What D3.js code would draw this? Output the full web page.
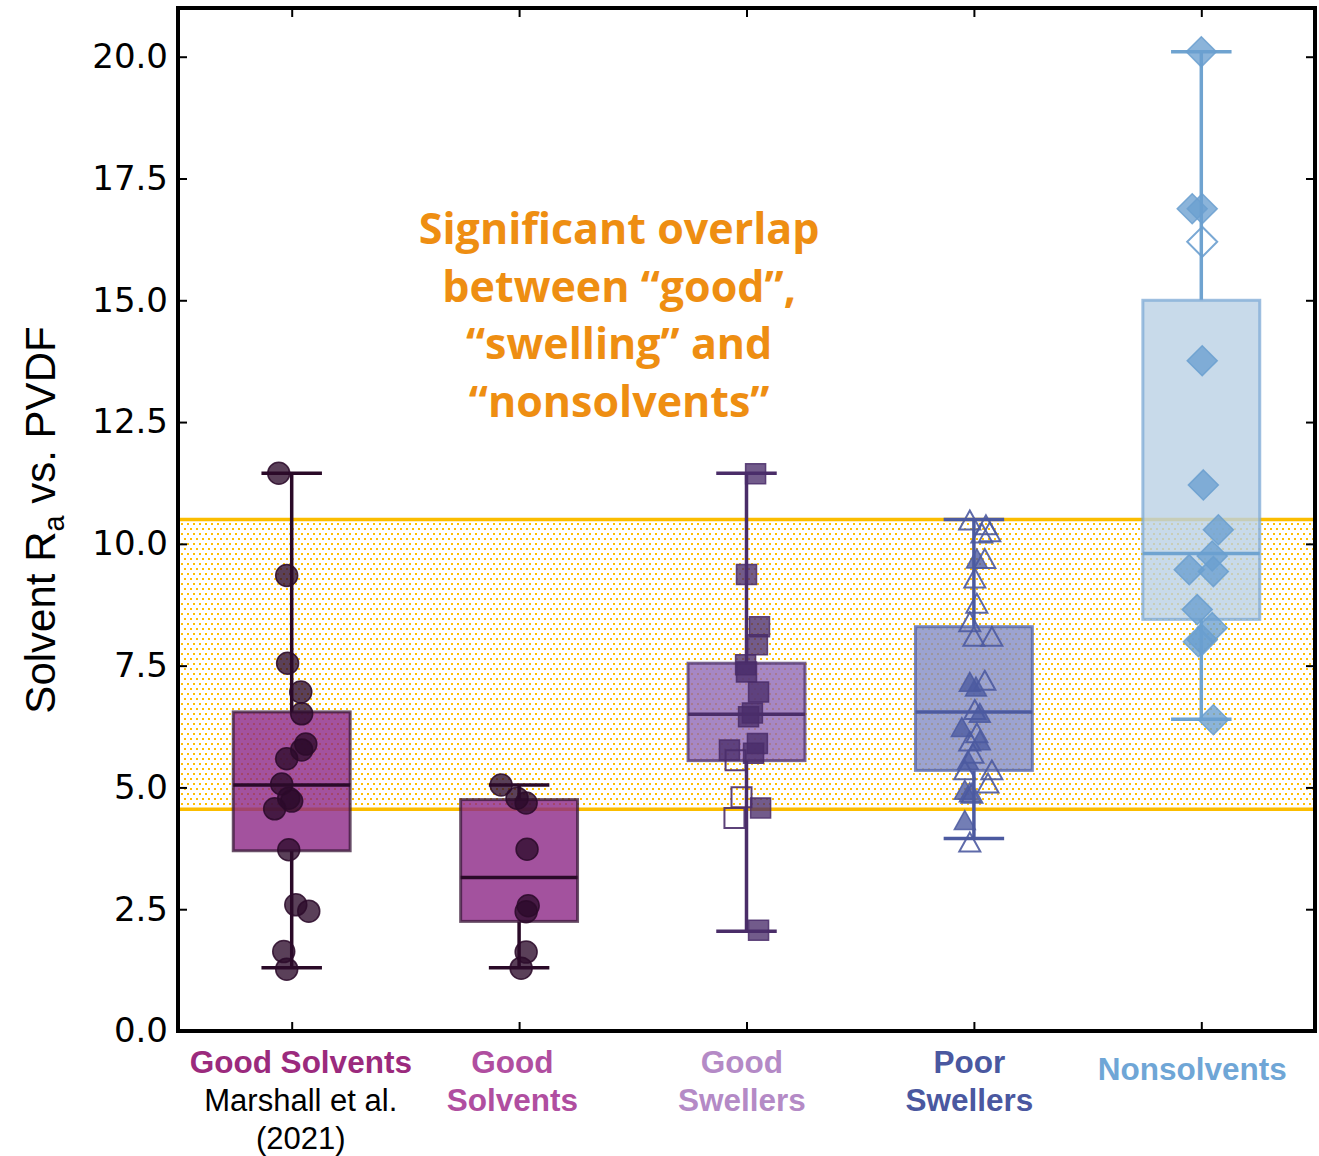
<!DOCTYPE html>
<html><head><meta charset="utf-8">
<script src="https://cdn.jsdelivr.net/npm/d3@7"></script>
<style>body{margin:0;background:#fff;} svg{display:block;}</style>
</head><body>
<script>
// ---------- data ----------
const categories = ["Good Solvents Marshall", "Good Solvents", "Good Swellers", "Poor Swellers", "Nonsolvents"];
const labelLines = [["Good Solvents"], ["Good", "Solvents"], ["Good", "Swellers"], ["Poor", "Swellers"], ["Nonsolvents"]];
const subLines = ["Marshall et al.", "(2021)"];
// box stats: [lowWhisker, q1, median, q3, highWhisker]
const boxStats = [
  [1.3, 3.7, 5.05, 6.55, 11.45],
  [1.3, 2.25, 3.15, 4.75, 5.05],
  [2.05, 5.55, 6.5, 7.55, 11.45],
  [3.95, 5.35, 6.55, 8.3, 10.5],
  [6.4, 8.45, 9.8, 15.0, 20.1]
];
// points: [value, jitter (category units)]
const ptsMarshall = [[11.45,-0.057],[9.35,-0.022],[7.55,-0.018],[6.96,0.04],[6.51,0.044],[5.89,0.062],[5.77,0.044],[5.59,-0.022],[5.07,-0.044],[4.78,-0.013],[4.72,0.0],[4.56,-0.075],[3.72,-0.013],[2.59,0.018],[2.46,0.075],[1.63,-0.035],[1.27,-0.022]];
const ptsGoodSolv = [[5.05,-0.079],[4.78,-0.009],[4.68,0.031],[3.73,0.035],[2.57,0.04],[2.45,0.031],[1.62,0.031],[1.29,0.009]];
const ptsSwellFilled = [[11.44,0.04],[9.37,0.0],[8.3,0.057],[7.93,0.048],[7.52,-0.004],[7.37,0.0],[6.96,0.053],[6.53,0.026],[6.45,0.009],[5.9,0.048],[5.77,-0.075],[5.7,0.031],[4.58,0.062],[2.07,0.053]];
const ptsSwellHollow = [[5.56,-0.048],[4.8,-0.022],[4.37,-0.053]];
const ptsPoorFilled = [[9.7,0.013],[7.17,-0.018],[7.07,0.009],[6.53,0.026],[6.24,-0.053],[5.97,0.026],[5.56,-0.026],[4.95,-0.04],[4.9,-0.018],[4.33,-0.04]];
const ptsPoorHollow = [[10.49,-0.018],[10.39,0.053],[10.25,0.07],[10.22,0.035],[9.7,0.048],[9.3,0.004],[8.78,0.013],[8.4,-0.018],[8.1,0.0],[8.1,0.079],[7.2,0.048],[6.6,0.004],[6.12,0.013],[5.95,-0.018],[5.7,-0.004],[5.36,0.079],[5.36,-0.04],[5.09,0.062],[4.88,-0.009],[3.88,-0.018]];
const ptsNonFilled = [[20.1,0.0],[16.88,-0.04],[16.88,0.004],[13.76,0.004],[11.21,0.009],[10.29,0.075],[9.75,0.048],[9.47,-0.053],[9.43,0.053],[8.65,-0.018],[8.28,0.048],[8.03,0.004],[7.99,-0.013],[6.39,0.053]];
const ptsNonHollow = [[16.2,0.004]];
const band = [4.55, 10.5];
const yTicks = [0, 2.5, 5, 7.5, 10, 12.5, 15, 17.5, 20];
const annotation = ["Significant overlap", "between \u201cgood\u201d,", "\u201cswelling\u201d and", "\u201cnonsolvents\u201d"];

// ---------- styles ----------
const boxFill = ["#8c2786", "#8c2786", "#9069b5", "#838cc4", "#bad1e5"];
const boxStroke = ["#3a1838", "#3a1838", "#4f3470", "#5363a8", "#7eaad6"];
const lineColor = ["#2a0a28", "#2a0a28", "#4a2d68", "#4c5aa0", "#6fa3d0"];
const ptColor = ["#2b0a2a", "#2b0a2a", "#4a2d6a", "#4c5aa0", "#6a9fcf"];
const labelColor = ["#9b2a7d", "#b04ea0", "#b48ac6", "#4a58a0", "#6fa6d6"];

const W = 1319, H = 1156;
const m = {l: 178, r: 1315, t: 8, b: 1031};
const svg = d3.select("body").append("svg").attr("width", W).attr("height", H);

const x = d3.scaleLinear().domain([-0.5, 4.5]).range([m.l, m.r]);
const y = d3.scaleLinear().domain([0, 21]).range([m.b, m.t]);

// pattern
const defs = svg.append("defs");
const pat = defs.append("pattern").attr("id", "dots").attr("patternUnits", "userSpaceOnUse")
  .attr("width", 6).attr("height", 10).attr("x", 180).attr("y", 522);
pat.append("rect").attr("x", 1).attr("y", 1).attr("width", 2).attr("height", 2).attr("fill", "#ffbf00");
pat.append("rect").attr("x", 4).attr("y", 6).attr("width", 2).attr("height", 2).attr("fill", "#ffbf00");
defs.append("clipPath").attr("id", "clip").append("rect")
  .attr("x", m.l).attr("y", m.t).attr("width", m.r - m.l).attr("height", m.b - m.t);

const g = svg.append("g").attr("clip-path", "url(#clip)");

// band
g.append("rect").attr("x", m.l).attr("width", m.r - m.l)
  .attr("y", y(band[1])).attr("height", y(band[0]) - y(band[1]))
  .attr("fill", "url(#dots)").attr("shape-rendering", "crispEdges");
band.forEach(v => g.append("line").attr("x1", m.l).attr("x2", m.r).attr("y1", y(v)).attr("y2", y(v))
  .attr("stroke", "#fbbd00").attr("stroke-width", 3.5));

// boxes
const halfBox = 0.257, halfCap = 0.133;
boxStats.forEach((s, i) => {
  const [lo, q1, med, q3, hi] = s;
  const gg = g.append("g");
  gg.append("line").attr("x1", x(i)).attr("x2", x(i)).attr("y1", y(q3)).attr("y2", y(hi))
    .attr("stroke", lineColor[i]).attr("stroke-width", 3.5);
  gg.append("line").attr("x1", x(i)).attr("x2", x(i)).attr("y1", y(q1)).attr("y2", y(lo))
    .attr("stroke", lineColor[i]).attr("stroke-width", 3.5);
  [lo, hi].forEach(v => gg.append("line").attr("x1", x(i - halfCap)).attr("x2", x(i + halfCap))
    .attr("y1", y(v)).attr("y2", y(v)).attr("stroke", lineColor[i]).attr("stroke-width", 3.5));
  gg.append("rect").attr("x", x(i - halfBox)).attr("width", x(i + halfBox) - x(i - halfBox))
    .attr("y", y(q3)).attr("height", y(q1) - y(q3))
    .attr("fill", boxFill[i]).attr("fill-opacity", 0.8)
    .attr("stroke", boxStroke[i]).attr("stroke-opacity", 0.75).attr("stroke-width", 3);
  gg.append("line").attr("x1", x(i - halfBox)).attr("x2", x(i + halfBox))
    .attr("y1", y(med)).attr("y2", y(med)).attr("stroke", lineColor[i]).attr("stroke-width", 3.5);
});

// points
function drawPts(data, i, shape, filled, size) {
  const sym = d3.symbol().type(shape).size(size);
  g.append("g").selectAll("path").data(data).join("path")
    .attr("transform", d => `translate(${x(i + d[1])},${y(d[0])})`)
    .attr("d", sym)
    .attr("fill", filled ? ptColor[i] : "none")
    .attr("fill-opacity", filled ? 0.78 : 0)
    .attr("stroke", ptColor[i]).attr("stroke-opacity", filled ? 0.85 : 0.9)
    .attr("stroke-width", filled ? 1.5 : 2);
}
const diamond = {draw(ctx, size) { const r = Math.sqrt(size) / 2; ctx.moveTo(0, -r); ctx.lineTo(r, 0); ctx.lineTo(0, r); ctx.lineTo(-r, 0); ctx.closePath(); }};
const tri = {draw(ctx, size) { const w = Math.sqrt(size) / 2; const h = w * 0.9; ctx.moveTo(0, -h); ctx.lineTo(w, h); ctx.lineTo(-w, h); ctx.closePath(); }};
drawPts(ptsMarshall, 0, d3.symbolCircle, true, Math.PI * 11 * 11);
drawPts(ptsGoodSolv, 1, d3.symbolCircle, true, Math.PI * 11 * 11);
drawPts(ptsSwellHollow, 2, d3.symbolSquare, false, 20 * 20);
drawPts(ptsSwellFilled, 2, d3.symbolSquare, true, 20 * 20);
drawPts(ptsPoorHollow, 3, tri, false, 21 * 21);
drawPts(ptsPoorFilled, 3, tri, true, 21 * 21);
drawPts(ptsNonHollow, 4, diamond, false, 30 * 30);
drawPts(ptsNonFilled, 4, diamond, true, 30 * 30);

// annotation
const ann = svg.append("text").attr("text-anchor", "middle")
  .attr("font-family", "'Open Sans', Lato, sans-serif").attr("font-weight", 700)
  .attr("font-size", 43).attr("fill", "#ee8e12");
annotation.forEach((t, k) => ann.append("tspan").attr("x", x(1.44)).attr("y", y(16.15) + k * 57.5).text(t));

// frame + ticks
const axL = d3.axisLeft(y).tickValues(yTicks).tickFormat(d3.format(".1f")).tickSizeInner(-9).tickSizeOuter(0).tickPadding(10);
const axR = d3.axisRight(y).tickValues(yTicks).tickFormat("").tickSizeInner(-9).tickSizeOuter(0);
const axB = d3.axisBottom(x).tickValues([0, 1, 2, 3, 4]).tickFormat("").tickSizeInner(-9).tickSizeOuter(0);
const axT = d3.axisTop(x).tickValues([0, 1, 2, 3, 4]).tickFormat("").tickSizeInner(-9).tickSizeOuter(0);
function styleAx(sel) {
  sel.select(".domain").remove();
  sel.selectAll(".tick line").attr("stroke", "#000").attr("stroke-width", 2);
}
const gl = svg.append("g").attr("transform", `translate(${m.l},0)`).call(axL).call(styleAx);
gl.selectAll(".tick text").attr("font-family", "'DejaVu Sans', sans-serif").attr("font-size", 34).attr("fill", "#000");
svg.append("g").attr("transform", `translate(${m.r},0)`).call(axR).call(styleAx);
svg.append("g").attr("transform", `translate(0,${m.b})`).call(axB).call(styleAx);
svg.append("g").attr("transform", `translate(0,${m.t})`).call(axT).call(styleAx);
svg.append("rect").attr("x", m.l).attr("y", m.t).attr("width", m.r - m.l).attr("height", m.b - m.t)
  .attr("fill", "none").attr("stroke", "#000").attr("stroke-width", 4);

// y label
const yl = svg.append("text").attr("transform", `translate(55,520) rotate(-90)`)
  .attr("text-anchor", "middle").attr("font-family", "'Liberation Sans', Arial, sans-serif")
  .attr("font-size", 42).attr("fill", "#000");
yl.append("tspan").text("Solvent R");
yl.append("tspan").attr("font-size", 29).attr("dy", 9).text("a");
yl.append("tspan").attr("dy", -9).text(" vs. PVDF");

// x labels
const lblX = [0.04, -0.03, -0.02, -0.02, -0.04];
labelLines.forEach((lines, i) => {
  const t = svg.append("text").attr("text-anchor", "middle")
    .attr("font-family", "'Liberation Sans', Arial, sans-serif").attr("font-weight", 700)
    .attr("font-size", 31.5).attr("fill", labelColor[i]);
  const y0 = lines.length === 1 && i === 4 ? 1080 : 1073;
  lines.forEach((s, k) => t.append("tspan").attr("x", x(i + lblX[i])).attr("y", y0 + k * 38).text(s));
});
const st = svg.append("text").attr("text-anchor", "middle")
  .attr("font-family", "'Liberation Sans', Arial, sans-serif").attr("font-size", 31).attr("fill", "#000");
subLines.forEach((s, k) => st.append("tspan").attr("x", x(0.04)).attr("y", 1111 + k * 38).text(s));
</script>
</body></html>
